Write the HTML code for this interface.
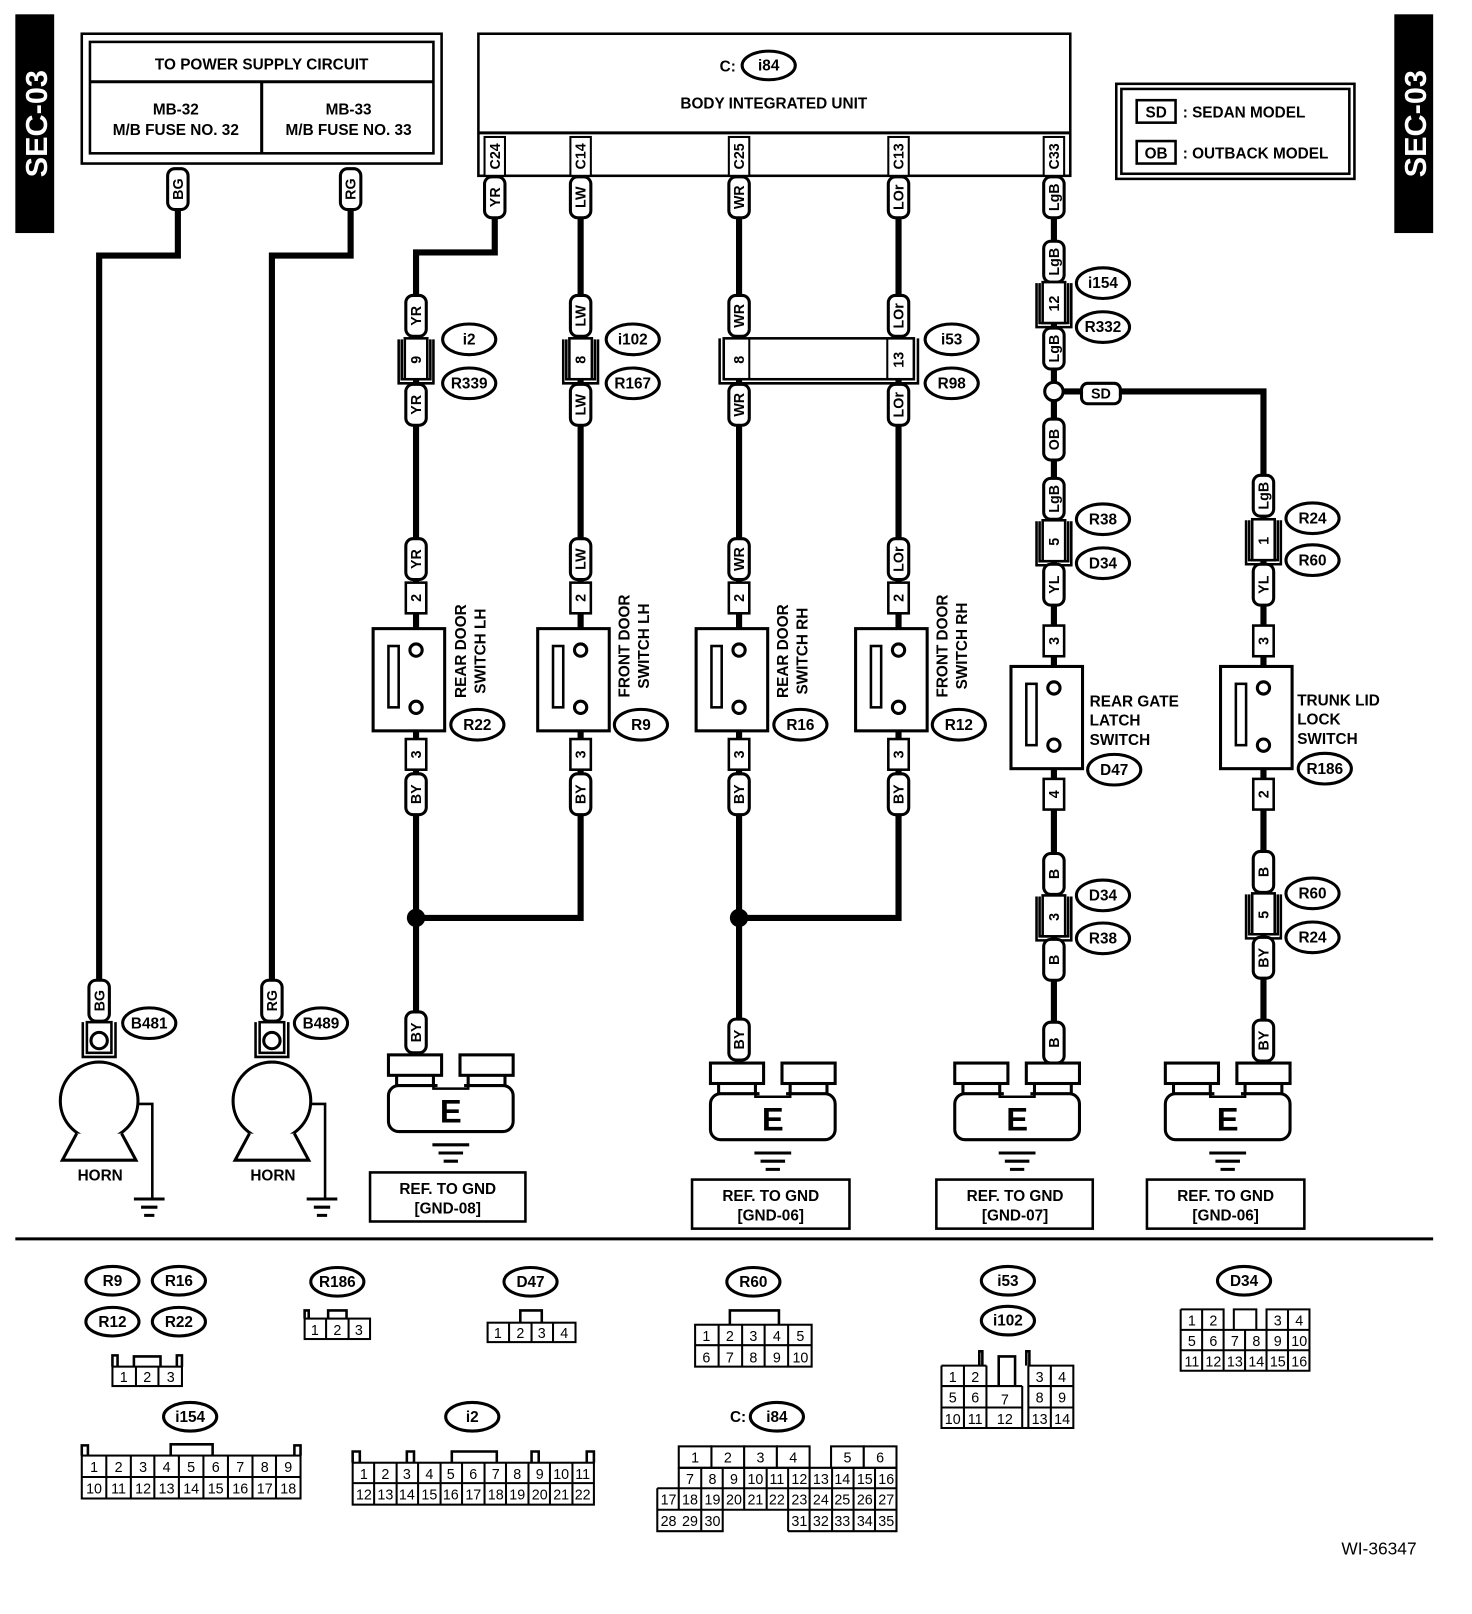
<!DOCTYPE html>
<html><head><meta charset="utf-8"><style>
html,body{margin:0;padding:0;background:#fff}
svg{display:block}
text{font-family:"Liberation Sans",Arial,sans-serif;font-weight:bold;fill:#000}
.n text{font-family:"Liberation Sans Narrow","Liberation Sans",sans-serif;font-weight:normal;font-size:14px}
.w{stroke:#000;stroke-width:6;fill:none}
.p{fill:#fff;stroke:#000;stroke-width:3}
.b{fill:#fff;stroke:#000;stroke-width:2.5}
.o{fill:#fff;stroke:#000;stroke-width:3}
.l{fill:none;stroke:#000;stroke-width:2.5}
.c{fill:#fff;stroke:#000;stroke-width:2}
</style></head><body>
<svg width="1472" height="1614" viewBox="0 0 1440 1579" preserveAspectRatio="none" xmlns="http://www.w3.org/2000/svg">
<defs>
<g id="pill"><rect x="-10" y="-20" width="20" height="40" rx="7" class="p"/></g>
<g id="blk"><path d="M-17,-20 V23 H17 V-20" class="l"/><path d="M-14,-20 V19 H14 V-20" class="l"/><rect x="-11" y="-21" width="22" height="40" class="b"/></g>
<g id="pin"><rect x="-10" y="-15" width="20" height="30" class="b"/></g>
<g id="sw"><rect x="-42" y="0" width="70" height="100" class="p"/><rect x="-27" y="17" width="10" height="60" class="l"/><circle cx="0" cy="21" r="6" class="p"/><circle cx="0" cy="77" r="6" class="p"/></g>
<g id="gnd"><rect x="8" y="18" width="36" height="14" class="p"/><rect x="78" y="18" width="36" height="14" class="p"/><rect x="0" y="30" width="122" height="45" rx="10" class="p"/><rect x="0" y="0" width="52" height="20" class="p"/><rect x="70" y="0" width="52" height="20" class="p"/><rect x="48" y="22" width="26" height="12" fill="#fff"/><path d="M44,22 V33 H78 V22" class="l"/><text x="61" y="66" font-size="32" text-anchor="middle">E</text><path d="M43,88 H79 M49,96 H73 M54,104 H68" stroke="#000" stroke-width="3"/></g>
<g id="horn"><circle cx="0" cy="0" r="38" class="p"/><path d="M-22,32 L-36,58 H36 L22,32" class="p"/><path d="M38,3 H52 V95" class="l"/><path d="M37,96 H67 M44,104 H60 M47,112 H57" stroke="#000" stroke-width="3" transform="translate(-3,0)"/></g>
</defs>

<!-- SEC-03 -->
<rect x="15" y="14" width="38" height="214" fill="#000"/>
<text transform="translate(46,121) rotate(-90)" font-size="30" style="fill:#fff" text-anchor="middle">SEC-03</text>
<rect x="1364" y="14" width="38" height="214" fill="#000"/>
<text transform="translate(1395,121) rotate(-90)" font-size="30" style="fill:#fff" text-anchor="middle">SEC-03</text>

<!-- power box -->
<rect x="80" y="33" width="352" height="127" class="l" stroke-width="3"/>
<rect x="88" y="41" width="336" height="109" class="l" stroke-width="3"/>
<line x1="88" y1="80" x2="424" y2="80" stroke="#000" stroke-width="3"/>
<line x1="256" y1="80" x2="256" y2="150" stroke="#000" stroke-width="3"/>
<text x="256" y="68" font-size="15" text-anchor="middle">TO POWER SUPPLY CIRCUIT</text>
<text x="172" y="112" font-size="15" text-anchor="middle">MB-32</text>
<text x="172" y="132" font-size="15" text-anchor="middle">M/B FUSE NO. 32</text>
<text x="341" y="112" font-size="15" text-anchor="middle">MB-33</text>
<text x="341" y="132" font-size="15" text-anchor="middle">M/B FUSE NO. 33</text>

<!-- body unit -->
<rect x="468" y="33" width="579" height="139" class="l" stroke-width="3"/>
<line x1="468" y1="130" x2="1047" y2="130" stroke="#000" stroke-width="3"/>
<text x="704" y="70" font-size="15">C:</text>
<ellipse cx="752" cy="64" rx="26" ry="14" class="o"/><text x="752" y="69" font-size="15" text-anchor="middle">i84</text>
<text x="757" y="106" font-size="15" text-anchor="middle">BODY INTEGRATED UNIT</text>
<g font-size="14">
<rect x="474" y="134" width="20" height="38" class="c"/><text transform="translate(489,153) rotate(-90)" text-anchor="middle">C24</text>
<rect x="558" y="134" width="20" height="38" class="c"/><text transform="translate(573,153) rotate(-90)" text-anchor="middle">C14</text>
<rect x="713" y="134" width="20" height="38" class="c"/><text transform="translate(728,153) rotate(-90)" text-anchor="middle">C25</text>
<rect x="869" y="134" width="20" height="38" class="c"/><text transform="translate(884,153) rotate(-90)" text-anchor="middle">C13</text>
<rect x="1021" y="134" width="20" height="38" class="c"/><text transform="translate(1036,153) rotate(-90)" text-anchor="middle">C33</text>
</g>

<!-- legend -->
<rect x="1092" y="82" width="233" height="93" class="l" stroke-width="3"/>
<rect x="1097" y="87" width="223" height="83" class="l" stroke-width="2"/>
<rect x="1112" y="98" width="38" height="22" class="l"/><text x="1131" y="115" font-size="15" text-anchor="middle">SD</text>
<text x="1157" y="115" font-size="15">: SEDAN MODEL</text>
<rect x="1112" y="138" width="38" height="22" class="l"/><text x="1131" y="155" font-size="15" text-anchor="middle">OB</text>
<text x="1157" y="155" font-size="15">: OUTBACK MODEL</text>

<!-- wires -->
<path class="w" d="M174,195 V250 H97 V965"/>
<path class="w" d="M343,195 V250 H266 V965"/>
<path class="w" d="M484,172 V247 H407 V1010"/>
<path class="w" d="M568,172 V898 H407"/>
<path class="w" d="M723,172 V1020"/>
<path class="w" d="M879,172 V898 H723"/>
<path class="w" d="M1031,172 V1020"/>
<path class="w" d="M1031,383 H1236 V480"/>
<path class="w" d="M1236,480 V1020"/>
<circle cx="407" cy="898" r="9"/>
<circle cx="723" cy="898" r="9"/>

<g font-size="14">
<use href="#pill" x="174" y="185"/><text transform="translate(179,185) rotate(-90)" text-anchor="middle">BG</text>
<use href="#pill" x="343" y="185"/><text transform="translate(348,185) rotate(-90)" text-anchor="middle">RG</text>
</g>

<g font-size="14">
<use href="#pill" x="484" y="193"/><text transform="translate(489,193) rotate(-90)" text-anchor="middle">YR</text>
<use href="#pill" x="568" y="193"/><text transform="translate(573,193) rotate(-90)" text-anchor="middle">LW</text>
<use href="#pill" x="723" y="193"/><text transform="translate(728,193) rotate(-90)" text-anchor="middle">WR</text>
<use href="#pill" x="879" y="193"/><text transform="translate(884,193) rotate(-90)" text-anchor="middle">LOr</text>
<use href="#pill" x="1031" y="193"/><text transform="translate(1036,193) rotate(-90)" text-anchor="middle">LgB</text>

<use href="#pill" x="407" y="309"/><text transform="translate(412,309) rotate(-90)" text-anchor="middle">YR</text>
<use href="#blk" x="407" y="352"/><text transform="translate(412,352) rotate(-90)" text-anchor="middle">9</text>
<use href="#pill" x="407" y="396"/><text transform="translate(412,396) rotate(-90)" text-anchor="middle">YR</text>
<use href="#pill" x="407" y="547"/><text transform="translate(412,547) rotate(-90)" text-anchor="middle">YR</text>
<use href="#pin" x="407" y="585"/><text transform="translate(412,585) rotate(-90)" text-anchor="middle">2</text>
<use href="#sw" x="407" y="615"/>
<use href="#pin" x="407" y="738"/><text transform="translate(412,738) rotate(-90)" text-anchor="middle">3</text>
<use href="#pill" x="407" y="777"/><text transform="translate(412,777) rotate(-90)" text-anchor="middle">BY</text>
<use href="#pill" x="407" y="1010"/><text transform="translate(412,1010) rotate(-90)" text-anchor="middle">BY</text>

<use href="#pill" x="568" y="309"/><text transform="translate(573,309) rotate(-90)" text-anchor="middle">LW</text>
<use href="#blk" x="568" y="352"/><text transform="translate(573,352) rotate(-90)" text-anchor="middle">8</text>
<use href="#pill" x="568" y="396"/><text transform="translate(573,396) rotate(-90)" text-anchor="middle">LW</text>
<use href="#pill" x="568" y="547"/><text transform="translate(573,547) rotate(-90)" text-anchor="middle">LW</text>
<use href="#pin" x="568" y="585"/><text transform="translate(573,585) rotate(-90)" text-anchor="middle">2</text>
<use href="#sw" x="568" y="615"/>
<use href="#pin" x="568" y="738"/><text transform="translate(573,738) rotate(-90)" text-anchor="middle">3</text>
<use href="#pill" x="568" y="777"/><text transform="translate(573,777) rotate(-90)" text-anchor="middle">BY</text>

<use href="#pill" x="723" y="309"/><text transform="translate(728,309) rotate(-90)" text-anchor="middle">WR</text>
<use href="#pill" x="879" y="309"/><text transform="translate(884,309) rotate(-90)" text-anchor="middle">LOr</text>
<path d="M704,331 V375 H898 V331" class="l"/>
<rect x="708" y="331" width="186" height="40" class="b"/>
<line x1="733" y1="331" x2="733" y2="371" stroke="#000" stroke-width="2"/>
<line x1="868" y1="331" x2="868" y2="371" stroke="#000" stroke-width="2"/>
<text transform="translate(728,352) rotate(-90)" text-anchor="middle">8</text>
<text transform="translate(884,352) rotate(-90)" text-anchor="middle">13</text>
<use href="#pill" x="723" y="396"/><text transform="translate(728,396) rotate(-90)" text-anchor="middle">WR</text>
<use href="#pill" x="879" y="396"/><text transform="translate(884,396) rotate(-90)" text-anchor="middle">LOr</text>
<use href="#pill" x="723" y="547"/><text transform="translate(728,547) rotate(-90)" text-anchor="middle">WR</text>
<use href="#pin" x="723" y="585"/><text transform="translate(728,585) rotate(-90)" text-anchor="middle">2</text>
<use href="#sw" x="723" y="615"/>
<use href="#pin" x="723" y="738"/><text transform="translate(728,738) rotate(-90)" text-anchor="middle">3</text>
<use href="#pill" x="723" y="777"/><text transform="translate(728,777) rotate(-90)" text-anchor="middle">BY</text>
<use href="#pill" x="723" y="1017"/><text transform="translate(728,1017) rotate(-90)" text-anchor="middle">BY</text>
<use href="#pill" x="879" y="547"/><text transform="translate(884,547) rotate(-90)" text-anchor="middle">LOr</text>
<use href="#pin" x="879" y="585"/><text transform="translate(884,585) rotate(-90)" text-anchor="middle">2</text>
<use href="#sw" x="879" y="615"/>
<use href="#pin" x="879" y="738"/><text transform="translate(884,738) rotate(-90)" text-anchor="middle">3</text>
<use href="#pill" x="879" y="777"/><text transform="translate(884,777) rotate(-90)" text-anchor="middle">BY</text>

<use href="#pill" x="1031" y="256"/><text transform="translate(1036,256) rotate(-90)" text-anchor="middle">LgB</text>
<use href="#blk" x="1031" y="297"/><text transform="translate(1036,297) rotate(-90)" text-anchor="middle">12</text>
<use href="#pill" x="1031" y="341"/><text transform="translate(1036,341) rotate(-90)" text-anchor="middle">LgB</text>
<circle cx="1031" cy="383" r="9" class="p"/>
<rect x="1058" y="375" width="38" height="20" rx="6" class="p"/><text x="1077" y="390" text-anchor="middle">SD</text>
<use href="#pill" x="1031" y="430"/><text transform="translate(1036,430) rotate(-90)" text-anchor="middle">OB</text>
<use href="#pill" x="1031" y="488"/><text transform="translate(1036,488) rotate(-90)" text-anchor="middle">LgB</text>
<use href="#blk" x="1031" y="530"/><text transform="translate(1036,530) rotate(-90)" text-anchor="middle">5</text>
<use href="#pill" x="1031" y="572"/><text transform="translate(1036,572) rotate(-90)" text-anchor="middle">YL</text>
<use href="#pin" x="1031" y="627"/><text transform="translate(1036,627) rotate(-90)" text-anchor="middle">3</text>
<g transform="translate(0,37)"><use href="#sw" x="1031" y="615"/></g>
<use href="#pin" x="1031" y="777"/><text transform="translate(1036,777) rotate(-90)" text-anchor="middle">4</text>
<use href="#pill" x="1031" y="855"/><text transform="translate(1036,855) rotate(-90)" text-anchor="middle">B</text>
<use href="#blk" x="1031" y="897"/><text transform="translate(1036,897) rotate(-90)" text-anchor="middle">3</text>
<use href="#pill" x="1031" y="939"/><text transform="translate(1036,939) rotate(-90)" text-anchor="middle">B</text>
<use href="#pill" x="1031" y="1020"/><text transform="translate(1036,1020) rotate(-90)" text-anchor="middle">B</text>

<use href="#pill" x="1236" y="485"/><text transform="translate(1241,485) rotate(-90)" text-anchor="middle">LgB</text>
<use href="#blk" x="1236" y="529"/><text transform="translate(1241,529) rotate(-90)" text-anchor="middle">1</text>
<use href="#pill" x="1236" y="572"/><text transform="translate(1241,572) rotate(-90)" text-anchor="middle">YL</text>
<use href="#pin" x="1236" y="627"/><text transform="translate(1241,627) rotate(-90)" text-anchor="middle">3</text>
<g transform="translate(0,37)"><use href="#sw" x="1236" y="615"/></g>
<use href="#pin" x="1236" y="777"/><text transform="translate(1241,777) rotate(-90)" text-anchor="middle">2</text>
<use href="#pill" x="1236" y="853"/><text transform="translate(1241,853) rotate(-90)" text-anchor="middle">B</text>
<use href="#blk" x="1236" y="895"/><text transform="translate(1241,895) rotate(-90)" text-anchor="middle">5</text>
<use href="#pill" x="1236" y="937"/><text transform="translate(1241,937) rotate(-90)" text-anchor="middle">BY</text>
<use href="#pill" x="1236" y="1018"/><text transform="translate(1241,1018) rotate(-90)" text-anchor="middle">BY</text>

<use href="#pill" x="97" y="979"/><text transform="translate(102,979) rotate(-90)" text-anchor="middle">BG</text>
<use href="#pill" x="266" y="979"/><text transform="translate(271,979) rotate(-90)" text-anchor="middle">RG</text>
</g>

<!-- horns -->
<path d="M81,1000 V1034 H113 V1000" class="l" stroke-width="3"/><rect x="85" y="1000" width="24" height="30" class="b"/><circle cx="97" cy="1018" r="8" class="p"/>
<use href="#horn" x="97" y="1077"/>
<path d="M250,1000 V1034 H282 V1000" class="l" stroke-width="3"/><rect x="254" y="1000" width="24" height="30" class="b"/><circle cx="266" cy="1018" r="8" class="p"/>
<use href="#horn" x="266" y="1077"/>
<text x="98" y="1155" font-size="15" text-anchor="middle">HORN</text>
<text x="267" y="1155" font-size="15" text-anchor="middle">HORN</text>

<!-- grounds -->
<use href="#gnd" x="380" y="1032"/>
<use href="#gnd" x="695" y="1040"/>
<use href="#gnd" x="934" y="1040"/>
<use href="#gnd" x="1140" y="1040"/>
<g font-size="15" text-anchor="middle">
<rect x="362" y="1147" width="152" height="48" class="l"/><text x="438" y="1168">REF. TO GND</text><text x="438" y="1187">[GND-08]</text>
<rect x="677" y="1154" width="154" height="48" class="l"/><text x="754" y="1175">REF. TO GND</text><text x="754" y="1194">[GND-06]</text>
<rect x="916" y="1154" width="153" height="48" class="l"/><text x="993" y="1175">REF. TO GND</text><text x="993" y="1194">[GND-07]</text>
<rect x="1122" y="1154" width="154" height="48" class="l"/><text x="1199" y="1175">REF. TO GND</text><text x="1199" y="1194">[GND-06]</text>
</g>

<!-- ovals -->
<g font-size="15" text-anchor="middle">
<ellipse cx="146" cy="1001" rx="26" ry="15" class="o"/><text x="146" y="1006">B481</text>
<ellipse cx="314" cy="1001" rx="26" ry="15" class="o"/><text x="314" y="1006">B489</text>
<ellipse cx="459" cy="332" rx="26" ry="15" class="o"/><text x="459" y="337">i2</text>
<ellipse cx="459" cy="375" rx="26" ry="15" class="o"/><text x="459" y="380">R339</text>
<ellipse cx="619" cy="332" rx="26" ry="15" class="o"/><text x="619" y="337">i102</text>
<ellipse cx="619" cy="375" rx="26" ry="15" class="o"/><text x="619" y="380">R167</text>
<ellipse cx="931" cy="332" rx="26" ry="15" class="o"/><text x="931" y="337">i53</text>
<ellipse cx="931" cy="375" rx="26" ry="15" class="o"/><text x="931" y="380">R98</text>
<ellipse cx="1079" cy="277" rx="26" ry="15" class="o"/><text x="1079" y="282">i154</text>
<ellipse cx="1079" cy="320" rx="26" ry="15" class="o"/><text x="1079" y="325">R332</text>
<ellipse cx="467" cy="709" rx="26" ry="15" class="o"/><text x="467" y="714">R22</text>
<ellipse cx="627" cy="709" rx="26" ry="15" class="o"/><text x="627" y="714">R9</text>
<ellipse cx="783" cy="709" rx="26" ry="15" class="o"/><text x="783" y="714">R16</text>
<ellipse cx="938" cy="709" rx="26" ry="15" class="o"/><text x="938" y="714">R12</text>
<ellipse cx="1079" cy="508" rx="26" ry="15" class="o"/><text x="1079" y="513">R38</text>
<ellipse cx="1079" cy="551" rx="26" ry="15" class="o"/><text x="1079" y="556">D34</text>
<ellipse cx="1090" cy="753" rx="26" ry="15" class="o"/><text x="1090" y="758">D47</text>
<ellipse cx="1079" cy="876" rx="26" ry="15" class="o"/><text x="1079" y="881">D34</text>
<ellipse cx="1079" cy="918" rx="26" ry="15" class="o"/><text x="1079" y="923">R38</text>
<ellipse cx="1284" cy="507" rx="26" ry="15" class="o"/><text x="1284" y="512">R24</text>
<ellipse cx="1284" cy="548" rx="26" ry="15" class="o"/><text x="1284" y="553">R60</text>
<ellipse cx="1296" cy="752" rx="26" ry="15" class="o"/><text x="1296" y="757">R186</text>
<ellipse cx="1284" cy="874" rx="26" ry="15" class="o"/><text x="1284" y="879">R60</text>
<ellipse cx="1284" cy="917" rx="26" ry="15" class="o"/><text x="1284" y="922">R24</text>
</g>

<g font-size="15" text-anchor="middle">
<text transform="translate(456,637) rotate(-90)">REAR DOOR</text><text transform="translate(475,637) rotate(-90)">SWITCH LH</text>
<text transform="translate(616,632) rotate(-90)">FRONT DOOR</text><text transform="translate(635,632) rotate(-90)">SWITCH LH</text>
<text transform="translate(771,637) rotate(-90)">REAR DOOR</text><text transform="translate(790,637) rotate(-90)">SWITCH RH</text>
<text transform="translate(927,632) rotate(-90)">FRONT DOOR</text><text transform="translate(946,632) rotate(-90)">SWITCH RH</text>
</g>
<g font-size="15">
<text x="1066" y="691">REAR GATE</text><text x="1066" y="710">LATCH</text><text x="1066" y="729">SWITCH</text>
<text x="1269" y="690">TRUNK LID</text><text x="1269" y="709">LOCK</text><text x="1269" y="728">SWITCH</text>
</g>

<line x1="15" y1="1212" x2="1402" y2="1212" stroke="#000" stroke-width="3"/>

<g font-size="15" text-anchor="middle">
<ellipse cx="110" cy="1253" rx="26" ry="14" class="o"/><text x="110" y="1258">R9</text>
<ellipse cx="175" cy="1253" rx="26" ry="14" class="o"/><text x="175" y="1258">R16</text>
<ellipse cx="110" cy="1293" rx="26" ry="14" class="o"/><text x="110" y="1298">R12</text>
<ellipse cx="175" cy="1293" rx="26" ry="14" class="o"/><text x="175" y="1298">R22</text>
<ellipse cx="330" cy="1254" rx="26" ry="14" class="o"/><text x="330" y="1259">R186</text>
<ellipse cx="519" cy="1254" rx="26" ry="14" class="o"/><text x="519" y="1259">D47</text>
<ellipse cx="737" cy="1254" rx="26" ry="14" class="o"/><text x="737" y="1259">R60</text>
<ellipse cx="986" cy="1253" rx="26" ry="14" class="o"/><text x="986" y="1258">i53</text>
<ellipse cx="986" cy="1292" rx="26" ry="14" class="o"/><text x="986" y="1297">i102</text>
<ellipse cx="1217" cy="1253" rx="26" ry="14" class="o"/><text x="1217" y="1258">D34</text>
<ellipse cx="186" cy="1386" rx="26" ry="14" class="o"/><text x="186" y="1391">i154</text>
<ellipse cx="462" cy="1386" rx="26" ry="14" class="o"/><text x="462" y="1391">i2</text>
<text x="722" y="1391">C:</text>
<ellipse cx="760" cy="1386" rx="26" ry="14" class="o"/><text x="760" y="1391">i84</text>
</g>

<g class="n" text-anchor="middle">
<path d="M110,1337 V1326 H115 V1337 M173,1337 V1326 H178 V1337 M131,1337 V1327 H157 V1337" class="l" stroke-width="2"/>
<rect x="110" y="1337" width="68" height="19" class="c"/><path d="M133,1337V1356M155,1337V1356" stroke="#000" stroke-width="2"/>
<text x="121" y="1352">1</text><text x="144" y="1352">2</text><text x="167" y="1352">3</text>
<path d="M298,1290 V1282 H302 V1290 M321,1290 V1282 H339 V1290" class="l" stroke-width="2"/>
<rect x="298" y="1290" width="64" height="20" class="c"/><path d="M319,1290V1310M341,1290V1310" stroke="#000" stroke-width="2"/>
<text x="308" y="1306">1</text><text x="330" y="1306">2</text><text x="351" y="1306">3</text>
<path d="M509,1294 V1282 H530 V1294" class="l" stroke-width="2"/>
<rect x="477" y="1294" width="86" height="19" class="c"/><path d="M498,1294V1313M520,1294V1313M541,1294V1313" stroke="#000" stroke-width="2"/>
<text x="487" y="1309">1</text><text x="509" y="1309">2</text><text x="530" y="1309">3</text><text x="552" y="1309">4</text>
<path d="M714,1296 V1282 H762 V1296" class="l" stroke-width="2"/>
<rect x="680" y="1296" width="114" height="41" class="c"/>
<path d="M680,1316H794M703,1296V1337M726,1296V1337M748,1296V1337M771,1296V1337" stroke="#000" stroke-width="2"/>
<text x="691" y="1312">1</text><text x="714" y="1312">2</text><text x="737" y="1312">3</text><text x="760" y="1312">4</text><text x="783" y="1312">5</text>
<text x="691" y="1333">6</text><text x="714" y="1333">7</text><text x="737" y="1333">8</text><text x="760" y="1333">9</text><text x="783" y="1333">10</text>
<!-- i102 -->
<path d="M958,1336 V1322 H961 V1336 M1004,1336 V1322 H1007 V1336" class="l" stroke-width="2"/>
<path d="M977,1356 V1327 H993 V1356" class="l" stroke-width="2"/>
<path d="M921,1336 H965 M1006,1336 H1050 V1397 H921 V1336 M921,1356 H965 M1006,1356 H1050 M921,1377 H1000 M1006,1377 H1050 M943,1336 V1397 M965,1336 V1397 M1000,1356 V1397 M1006,1336 V1397 M1028,1336 V1397 M965,1356 H1000" fill="none" stroke="#000" stroke-width="2"/>
<text x="932" y="1352">1</text><text x="954" y="1352">2</text><text x="1017" y="1352">3</text><text x="1039" y="1352">4</text>
<text x="932" y="1372">5</text><text x="954" y="1372">6</text><text x="983" y="1374">7</text><text x="1017" y="1372">8</text><text x="1039" y="1372">9</text>
<text x="932" y="1393">10</text><text x="954" y="1393">11</text><text x="983" y="1393">12</text><text x="1017" y="1393">13</text><text x="1039" y="1393">14</text>
<!-- D34 -->
<path d="M1155,1281 H1197 V1301 M1239,1301 V1281 H1281 V1341 H1155 V1281 M1155,1301 H1281 M1155,1321 H1281 M1176,1281 V1341 M1197,1301 V1341 M1218,1301 V1341 M1239,1301 V1341 M1260,1281 V1341 M1207,1301 V1281 H1229 V1301" fill="none" stroke="#000" stroke-width="2"/>
<text x="1166" y="1297">1</text><text x="1187" y="1297">2</text><text x="1250" y="1297">3</text><text x="1271" y="1297">4</text>
<text x="1166" y="1317">5</text><text x="1187" y="1317">6</text><text x="1208" y="1317">7</text><text x="1229" y="1317">8</text><text x="1250" y="1317">9</text><text x="1271" y="1317">10</text>
<text x="1166" y="1337">11</text><text x="1187" y="1337">12</text><text x="1208" y="1337">13</text><text x="1229" y="1337">14</text><text x="1250" y="1337">15</text><text x="1271" y="1337">16</text>
<!-- i154 -->
<path d="M80,1424 V1414 H86 V1424 M288,1424 V1414 H294 V1424 M167,1424 V1413 H208 V1424" class="l" stroke-width="2"/>
<rect x="80" y="1424" width="214" height="42" class="c"/>
<path d="M80,1445H294M104,1424V1466M128,1424V1466M151,1424V1466M175,1424V1466M199,1424V1466M223,1424V1466M247,1424V1466M270,1424V1466" stroke="#000" stroke-width="2"/>
<text x="92" y="1440">1</text><text x="116" y="1440">2</text><text x="140" y="1440">3</text><text x="163" y="1440">4</text><text x="187" y="1440">5</text><text x="211" y="1440">6</text><text x="235" y="1440">7</text><text x="259" y="1440">8</text><text x="282" y="1440">9</text>
<text x="92" y="1461">10</text><text x="116" y="1461">11</text><text x="140" y="1461">12</text><text x="163" y="1461">13</text><text x="187" y="1461">14</text><text x="211" y="1461">15</text><text x="235" y="1461">16</text><text x="259" y="1461">17</text><text x="282" y="1461">18</text>
<!-- i2 -->
<path d="M345,1431 V1420 H352 V1431 M398,1431 V1420 H405 V1431 M442,1431 V1420 H486 V1431 M520,1431 V1420 H527 V1431 M574,1431 V1420 H581 V1431" class="l" stroke-width="2"/>
<rect x="345" y="1431" width="236" height="41" class="c"/>
<path d="M345,1451H581M366,1431V1472M388,1431V1472M409,1431V1472M431,1431V1472M452,1431V1472M474,1431V1472M495,1431V1472M517,1431V1472M538,1431V1472M560,1431V1472" stroke="#000" stroke-width="2"/>
<text x="356" y="1447">1</text><text x="377" y="1447">2</text><text x="398" y="1447">3</text><text x="420" y="1447">4</text><text x="441" y="1447">5</text><text x="463" y="1447">6</text><text x="485" y="1447">7</text><text x="506" y="1447">8</text><text x="528" y="1447">9</text><text x="549" y="1447">10</text><text x="570" y="1447">11</text>
<text x="356" y="1467">12</text><text x="377" y="1467">13</text><text x="398" y="1467">14</text><text x="420" y="1467">15</text><text x="441" y="1467">16</text><text x="463" y="1467">17</text><text x="485" y="1467">18</text><text x="506" y="1467">19</text><text x="528" y="1467">20</text><text x="549" y="1467">21</text><text x="570" y="1467">22</text>
<!-- i84 -->
<g fill="#fff" stroke="#000" stroke-width="2">
<rect x="664" y="1415" width="32" height="21"/><rect x="696" y="1415" width="32" height="21"/><rect x="728" y="1415" width="32" height="21"/><rect x="760" y="1415" width="32" height="21"/>
<rect x="813" y="1415" width="32" height="21"/><rect x="845" y="1415" width="32" height="21"/>
</g>
<text x="680" y="1431">1</text><text x="712" y="1431">2</text><text x="744" y="1431">3</text><text x="776" y="1431">4</text><text x="829" y="1431">5</text><text x="861" y="1431">6</text>
<path d="M664,1436 H877 V1477 M643,1456 H877 M643,1456 V1498 H707 V1477 M771,1498 V1477 M771,1498 H877 V1477 M643,1477 H877 M664,1436 V1477 M686,1436 V1498 M707,1436 V1477 M728,1436 V1477 M750,1436 V1477 M771,1436 V1477 M792,1436 V1498 M814,1436 V1498 M835,1436 V1498 M856,1436 V1498" fill="none" stroke="#000" stroke-width="2"/>
<text x="675" y="1452">7</text><text x="697" y="1452">8</text><text x="718" y="1452">9</text><text x="739" y="1452">10</text><text x="760" y="1452">11</text><text x="782" y="1452">12</text><text x="803" y="1452">13</text><text x="824" y="1452">14</text><text x="846" y="1452">15</text><text x="867" y="1452">16</text>
<text x="654" y="1472">17</text><text x="675" y="1472">18</text><text x="697" y="1472">19</text><text x="718" y="1472">20</text><text x="739" y="1472">21</text><text x="760" y="1472">22</text><text x="782" y="1472">23</text><text x="803" y="1472">24</text><text x="824" y="1472">25</text><text x="846" y="1472">26</text><text x="867" y="1472">27</text>
<text x="654" y="1493">28</text><text x="675" y="1493">29</text><text x="697" y="1493">30</text><text x="782" y="1493">31</text><text x="803" y="1493">32</text><text x="824" y="1493">33</text><text x="846" y="1493">34</text><text x="867" y="1493">35</text>
</g>

<text x="1349" y="1521" font-size="17" style="font-weight:normal" text-anchor="middle">WI-36347</text>
</svg>
</body></html>
